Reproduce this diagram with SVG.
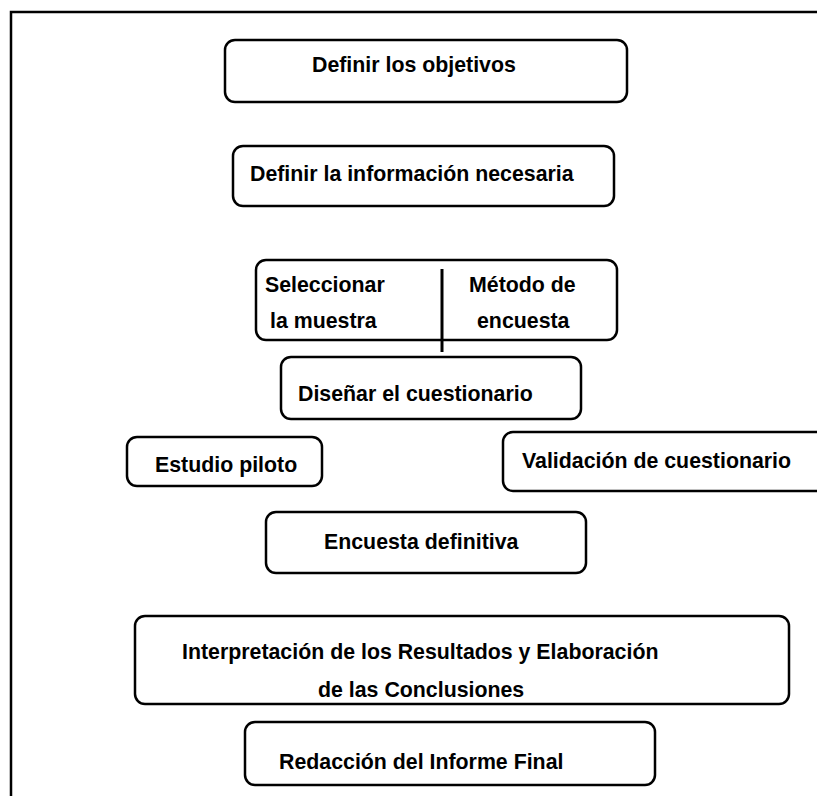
<svg xmlns="http://www.w3.org/2000/svg" width="817" height="796" viewBox="0 0 817 796">
<style>
.box{fill:#fff;stroke:#000;stroke-width:2.5}
.t{font-family:"Liberation Sans",Arial,sans-serif;font-weight:bold;font-size:21.33px;fill:#000}
.ln{stroke:#000;fill:none}
</style>
<rect width="817" height="796" fill="#fff"/>
<g id="frame">
<path class="ln" stroke-width="2.5" d="M11,796 V12 H817"/>
</g>
<g id="n1"><rect class="box" x="225" y="40" width="402" height="62" rx="10"/><text class="t" x="312" y="72">Definir los objetivos</text></g>
<g id="n2"><rect class="box" x="233" y="146" width="381" height="60" rx="10"/><text class="t" x="250" y="181">Definir la información necesaria</text></g>
<g id="n3"><rect class="box" x="256" y="260" width="361" height="80" rx="10"/>
<text class="t" x="265" y="292">Seleccionar</text><text class="t" x="270" y="328">la muestra</text>
<text class="t" x="469" y="292">Método de</text><text class="t" x="477" y="328">encuesta</text></g>
<g id="n4"><rect class="box" x="281" y="357" width="300" height="62" rx="10"/><text class="t" x="298" y="401">Diseñar el cuestionario</text></g>
<g id="n5"><rect class="box" x="127" y="437" width="195" height="49" rx="10"/><text class="t" x="155" y="472">Estudio piloto</text></g>
<g id="n6"><rect class="box" x="503" y="432" width="340" height="59" rx="10"/><text class="t" x="522" y="468">Validación de cuestionario</text></g>
<g id="n7"><rect class="box" x="266" y="512" width="320" height="61" rx="10"/><text class="t" x="324" y="549">Encuesta definitiva</text></g>
<g id="n8"><rect class="box" x="135" y="616" width="654" height="88" rx="10"/><text class="t" x="182" y="659">Interpretación de los Resultados y Elaboración</text><text class="t" x="318" y="697">de las Conclusiones</text></g>
<g id="n9"><rect class="box" x="245" y="722" width="410" height="63" rx="10"/><text class="t" x="279" y="769">Redacción del Informe Final</text></g>
<g id="connectors">
<line class="ln" stroke-width="3" x1="442" y1="269" x2="442" y2="352"/>
</g>
</svg>
